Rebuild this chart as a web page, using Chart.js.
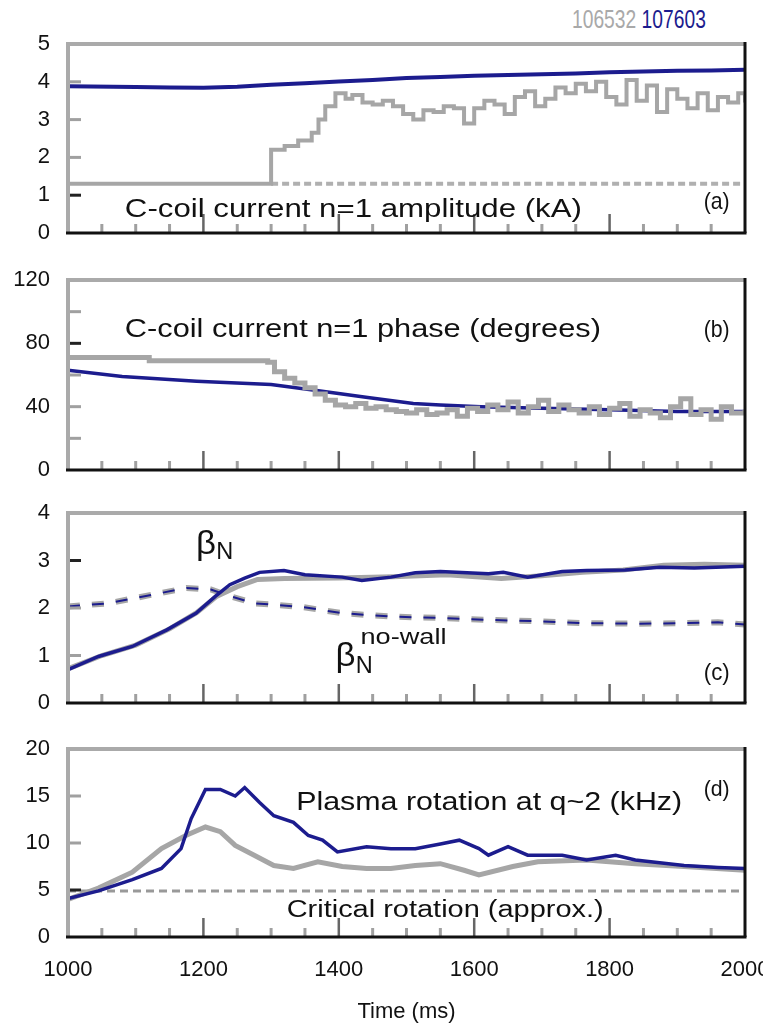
<!DOCTYPE html>
<html>
<head>
<meta charset="utf-8">
<script src="https://cdn.jsdelivr.net/npm/chart.js@4.4.1/dist/chart.umd.min.js"></script>
<style>
  body { margin: 0; background: #fff; width: 763px; height: 1029px; position: relative; overflow: hidden; font-family: "Liberation Sans", Arial, sans-serif; }
  .panel { position: absolute; left: 0; width: 763px; }
  #hdr { position: absolute; top: 5px; left: 572px; font-size: 25px; white-space: nowrap; transform: scaleX(0.77); transform-origin: 0 0; }
</style>
</head>
<body>
<div id="hdr"><span style="color:#a9a9a9">106532</span> <span style="color:#1c1c8e">107603</span></div>
<div class="panel" style="top:0;height:247px"><canvas id="pa"></canvas></div>
<div class="panel" style="top:268px;height:216px"><canvas id="pb"></canvas></div>
<div class="panel" style="top:501px;height:216px"><canvas id="pc"></canvas></div>
<div class="panel" style="top:737px;height:292px"><canvas id="pd"></canvas></div>
<script>
// (a) C-coil current n=1 amplitude (kA)
const ampBlueT = [1000, 1100, 1150, 1200, 1250, 1300, 1350, 1400, 1450, 1500, 1550, 1600, 1650, 1700, 1750, 1800, 1850, 1900, 1950, 2000];
const ampBlue  = [3.88, 3.86, 3.85, 3.84, 3.87, 3.92, 3.96, 4.01, 4.05, 4.1, 4.13, 4.16, 4.18, 4.2, 4.22, 4.25, 4.27, 4.29, 4.3, 4.32];
const ampGreyT = [1000, 1298, 1300, 1320, 1340, 1360, 1370, 1380, 1395, 1410, 1420, 1435, 1450, 1465, 1480, 1495, 1510, 1525, 1540, 1555, 1570, 1585, 1600, 1615, 1630, 1645, 1660, 1675, 1690, 1705, 1720, 1735, 1750, 1765, 1780, 1795, 1810, 1825, 1840, 1855, 1870, 1885, 1900, 1915, 1930, 1945, 1960, 1975, 1990, 2000];
const ampGrey  = [1.3, 1.3, 2.2, 2.3, 2.45, 2.65, 3.0, 3.35, 3.7, 3.55, 3.65, 3.45, 3.4, 3.5, 3.35, 3.15, 3.0, 3.25, 3.2, 3.35, 3.3, 2.9, 3.3, 3.5, 3.4, 3.15, 3.6, 3.75, 3.35, 3.55, 3.85, 3.7, 3.95, 3.75, 4.0, 3.6, 3.4, 4.05, 3.5, 3.9, 3.2, 3.8, 3.55, 3.3, 3.7, 3.25, 3.6, 3.45, 3.7, 3.45];
const ampPresetT = [1300, 2000];
const ampPreset  = [1.3, 1.3];

// (b) C-coil current n=1 phase (degrees)
const phBlueT = [1000, 1080, 1190, 1300, 1370, 1440, 1510, 1550, 1610, 1700, 1800, 1900, 2000];
const phBlue  = [63, 59, 56, 54, 50, 46, 42, 41, 40, 39, 38, 37, 37];
const phGreyT = [1000, 1120, 1295, 1305, 1320, 1335, 1350, 1365, 1380, 1395, 1410, 1425, 1440, 1455, 1470, 1485, 1500, 1515, 1530, 1545, 1560, 1575, 1590, 1605, 1620, 1635, 1650, 1665, 1680, 1695, 1710, 1725, 1740, 1755, 1770, 1785, 1800, 1815, 1830, 1845, 1860, 1875, 1890, 1905, 1920, 1935, 1950, 1965, 1980, 2000];
const phGrey  = [71, 69, 68, 62, 58, 55, 52, 48, 44, 41, 40, 42, 39, 40, 38, 37, 36, 38, 35, 36, 38, 34, 39, 37, 41, 38, 43, 36, 40, 44, 37, 41, 38, 36, 40, 35, 39, 42, 34, 38, 36, 33, 40, 45, 35, 38, 32, 40, 36, 38];

// (c) beta_N and no-wall limit
const bnBlueT = [1000, 1045, 1095, 1146, 1189, 1218, 1239, 1261, 1283, 1319, 1350, 1405, 1434, 1477, 1513, 1550, 1621, 1643, 1679, 1730, 1766, 1823, 1874, 1925, 2000];
const bnBlue  = [0.7, 0.98, 1.19, 1.54, 1.89, 2.25, 2.49, 2.63, 2.75, 2.79, 2.7, 2.65, 2.58, 2.65, 2.74, 2.77, 2.72, 2.75, 2.65, 2.77, 2.79, 2.8, 2.86, 2.84, 2.88];
const bnGreyT = [1000, 1050, 1100, 1150, 1190, 1220, 1250, 1280, 1320, 1400, 1480, 1560, 1640, 1700, 1760, 1820, 1880, 1940, 2000];
const bnGrey  = [0.72, 1.0, 1.22, 1.56, 1.9, 2.25, 2.45, 2.6, 2.62, 2.63, 2.66, 2.7, 2.62, 2.68, 2.75, 2.8, 2.9, 2.92, 2.9];
const noWallT = [1000, 1060, 1117, 1175, 1211, 1239, 1275, 1347, 1405, 1477, 1550, 1621, 1694, 1766, 1838, 1910, 1960, 2000];
const noWall  = [2.03, 2.1, 2.26, 2.42, 2.39, 2.25, 2.1, 2.02, 1.89, 1.82, 1.79, 1.75, 1.72, 1.68, 1.67, 1.68, 1.7, 1.65];

// (d) plasma rotation at q~2 (kHz)
const rotBlueT = [1000, 1045, 1095, 1138, 1167, 1182, 1203, 1225, 1247, 1261, 1283, 1304, 1333, 1355, 1376, 1398, 1441, 1477, 1513, 1550, 1578, 1607, 1621, 1650, 1679, 1730, 1766, 1809, 1838, 1910, 1960, 2000];
const rotBlue  = [4.1, 4.9, 6.1, 7.3, 9.4, 12.6, 15.7, 15.7, 15.0, 15.9, 14.3, 12.9, 12.2, 10.8, 10.3, 9.05, 9.6, 9.4, 9.4, 9.9, 10.3, 9.4, 8.7, 9.6, 8.7, 8.7, 8.2, 8.7, 8.2, 7.6, 7.4, 7.3];
const rotGreyT = [1000, 1045, 1095, 1138, 1174, 1203, 1225, 1247, 1275, 1304, 1333, 1369, 1405, 1441, 1477, 1513, 1550, 1585, 1607, 1657, 1694, 1766, 1838, 1910, 2000];
const rotGrey  = [4.0, 5.2, 6.9, 9.4, 10.8, 11.7, 11.2, 9.75, 8.7, 7.6, 7.3, 8.0, 7.5, 7.3, 7.3, 7.6, 7.8, 7.1, 6.6, 7.5, 8.0, 8.2, 7.8, 7.5, 7.1];
const criticalT = [1000, 2000];
const critical  = [4.9, 4.9];

const xTickLabels = [1000, 1200, 1400, 1600, 1800, 2000];

const BLUE = '#1c1c8e';
const GREY = '#a6a6a6';
const FONT = '"Liberation Sans", Arial, sans-serif';

function series(t, v, color, width, extra) {
    return Object.assign({
        data: t.map((x, i) => ({ x: x, y: v[i] })),
        borderColor: color,
        borderWidth: width,
        pointRadius: 0,
        fill: false
    }, extra || {});
}

// frame, inner tick marks and in-plot text
const panelDeco = {
    id: 'panelDeco',
    afterDatasetsDraw(chart, args, o) {
        const ctx = chart.ctx, a = chart.chartArea;
        const xs = chart.scales.x, ys = chart.scales.y;
        const seg = (x1, y1, x2, y2, c, w) => {
            ctx.strokeStyle = c; ctx.lineWidth = w;
            ctx.beginPath(); ctx.moveTo(x1, y1); ctx.lineTo(x2, y2); ctx.stroke();
        };
        ctx.save();
        ys.ticks.forEach(t => {
            if (t.value === ys.min) return;
            const py = ys.getPixelForValue(t.value);
            seg(a.left, py, a.left + 13, py, o.yDark.includes(t.value) ? '#222' : '#a0a0a0', 3);
        });
        for (let t = 1050; t < 2000; t += 50) {
            const px = xs.getPixelForValue(t);
            if ((t - 1000) % 200 === 0) seg(px, a.bottom, px, a.bottom - 19, '#666', 2.5);
            else seg(px, a.bottom, px, a.bottom - 9, '#a0a0a0', 3);
        }
        seg(a.left, a.top, a.right, a.top, '#aaaaaa', 4);
        seg(a.left, a.top - 2, a.left, a.bottom, '#aaaaaa', 4);
        seg(a.left - 2, a.bottom, a.right + 1.5, a.bottom, '#111', 3);
        seg(a.right, a.top - 2, a.right, a.bottom, '#111', 3);

        ctx.fillStyle = '#111';
        ctx.textAlign = 'left';
        ctx.textBaseline = 'middle';
        (o.notes || []).forEach(n => {
            ctx.font = (n.size || 24) + 'px "Liberation Sans", Arial, sans-serif';
            const m = ctx.measureText(n.text).width;
            ctx.save();
            ctx.translate(xs.getPixelForValue(n.t), ys.getPixelForValue(n.v));
            ctx.scale(n.w / m, 1);
            ctx.fillText(n.text, 0, 0);
            ctx.restore();
        });
        ctx.restore();
    }
};

function makePanel(id, pad, yMin, yMax, yStep, labelEvery, datasets, deco, showX) {
    return new Chart(document.getElementById(id), {
        type: 'line',
        data: { datasets: datasets },
        options: {
            responsive: true,
            maintainAspectRatio: false,
            animation: false,
            layout: { padding: { top: pad[0], right: 18, bottom: pad[1], left: 0 } },
            elements: { line: { tension: 0 } },
            plugins: { legend: { display: false }, tooltip: { enabled: false }, panelDeco: deco },
            scales: {
                x: {
                    type: 'linear', min: 1000, max: 2000,
                    display: showX,
                    grid: { display: false },
                    border: { display: false },
                    afterBuildTicks: s => { s.ticks = xTickLabels.map(v => ({ value: v })); },
                    afterFit: s => {
                        if (showX) s.height = 92;
                        s.paddingLeft = 0; s.paddingRight = 0;
                    },
                    ticks: { color: '#111', padding: 12, maxRotation: 0, font: { family: FONT, size: 22 }, callback: v => String(v) },
                    title: { display: true, text: 'Time (ms)', color: '#111', padding: { top: 0, bottom: 4 }, font: { family: FONT, size: 22 } }
                },
                y: {
                    min: yMin, max: yMax,
                    grid: { display: false },
                    border: { display: false },
                    afterFit: s => { s.width = 68; s.paddingTop = 0; s.paddingBottom = 0; },
                    ticks: {
                        stepSize: yStep, padding: 10, color: '#111',
                        font: { family: FONT, size: 22 },
                        callback: v => (v % labelEvery === 0 ? String(v) : '')
                    }
                }
            }
        },
        plugins: [panelDeco]
    });
}

makePanel('pa', [44, 14], 0, 5, 1, 1, [
    series(ampBlueT, ampBlue, BLUE, 4),
    series(ampGreyT, ampGrey, GREY, 4, { stepped: 'before' }),
    series(ampPresetT, ampPreset, '#b0b0b0', 4, { borderDash: [7, 4] })
], {
    yDark: [5, 1],
    notes: [
        { text: 'C-coil current n=1 amplitude (kA)', t: 1084, v: 0.61, w: 457, size: 25 },
        { text: '(a)', t: 1939, v: 0.82, w: 26, size: 24 }
    ]
}, false);

makePanel('pb', [12, 14], 0, 120, 20, 40, [
    series(phGreyT, phGrey, GREY, 5, { stepped: 'before' }),
    series(phBlueT, phBlue, BLUE, 3.5)
], {
    yDark: [120, 80],
    notes: [
        { text: 'C-coil current n=1 phase (degrees)', t: 1084, v: 88.4, w: 476, size: 25 },
        { text: '(b)', t: 1939, v: 88.4, w: 26, size: 24 }
    ]
}, false);

makePanel('pc', [12, 14], 0, 4, 1, 1, [
    series(bnBlueT, bnBlue, BLUE, 3.5),
    series(bnGreyT, bnGrey, GREY, 5),
    series(noWallT, noWall, BLUE, 2, { borderDash: [12, 12] }),
    series(noWallT, noWall, GREY, 6, { borderDash: [12, 12] })
], {
    yDark: [4, 3],
    notes: [
        { text: 'β', t: 1189, v: 3.33, w: 20, size: 34 },
        { text: 'N', t: 1219, v: 3.18, w: 17, size: 24 },
        { text: 'β', t: 1395, v: 0.98, w: 20, size: 34 },
        { text: 'N', t: 1425, v: 0.78, w: 17, size: 24 },
        { text: 'no-wall', t: 1432, v: 1.36, w: 86, size: 22 },
        { text: '(c)', t: 1939, v: 0.63, w: 26, size: 24 }
    ]
}, false);

makePanel('pd', [12, 0], 0, 20, 5, 5, [
    series(rotBlueT, rotBlue, BLUE, 3.5),
    series(rotGreyT, rotGrey, GREY, 5),
    series(criticalT, critical, '#999', 3, { borderDash: [8, 5] })
], {
    yDark: [20, 5],
    notes: [
        { text: 'Plasma rotation at q~2 (kHz)', t: 1337, v: 14.26, w: 386, size: 25 },
        { text: '(d)', t: 1939, v: 15.6, w: 26, size: 22 },
        { text: 'Critical rotation (approx.)', t: 1323, v: 2.77, w: 317, size: 23 }
    ]
}, true);
</script>
</body>
</html>
